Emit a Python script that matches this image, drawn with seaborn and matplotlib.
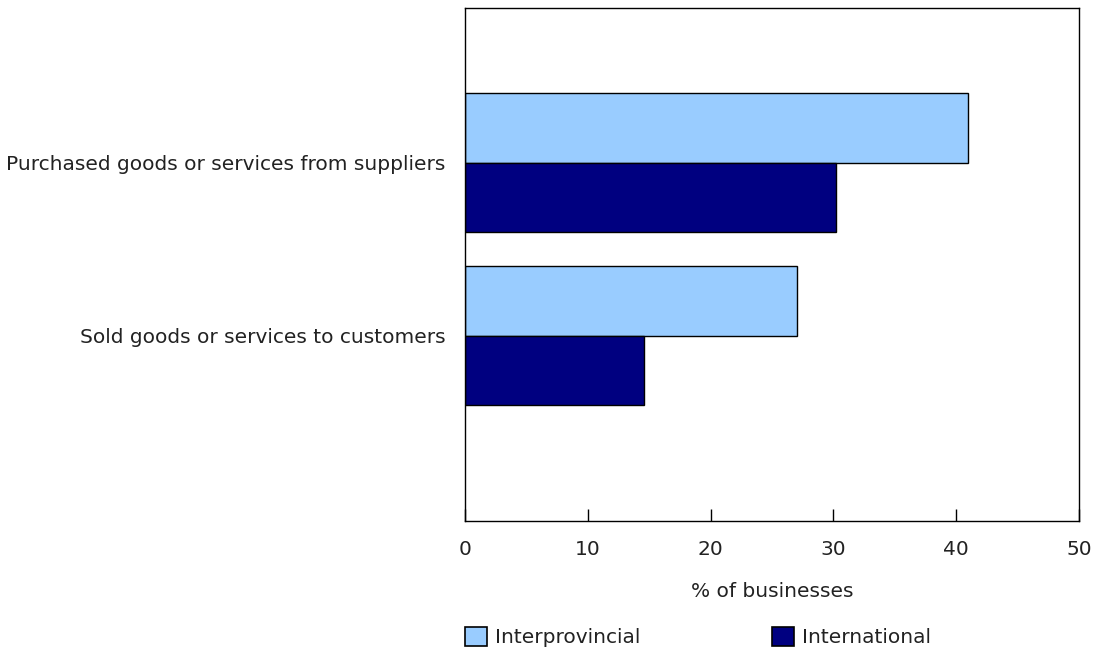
import numpy as np
import pandas as pd
import matplotlib
matplotlib.use("Agg")
import matplotlib.pyplot as plt
import seaborn as sns
from matplotlib.patches import Patch

# ── Data ──────────────────────────────────────────────────────────────────────
categories = ["Purchased goods or services from suppliers",
              "Sold goods or services to customers"]
series_names = ["Interprovincial", "International"]
interprovincial = [41.0, 27.0]
international = [30.2, 14.6]
colors = ["#99CCFF", "#000080"]
x_ticks = [0, 10, 20, 30, 40, 50]

df = pd.DataFrame({
    "category": categories * 2,
    "type": [series_names[0]] * 2 + [series_names[1]] * 2,
    "value": interprovincial + international,
})

FS = 14.5
TXT = "#222222"

# ── Figure ────────────────────────────────────────────────────────────────────
sns.set_theme(style="white")
plt.rcParams['font.family'] = ['DejaVu Sans']

fig = plt.figure(figsize=(10.93, 6.51), dpi=100)
ax = fig.add_axes([465/1093, 1 - 521/651, (1079 - 465)/1093, (521 - 8)/651])

sns.barplot(data=df, y="category", x="value", hue="type", orient="h",
            palette=colors, saturation=1, width=0.8, edgecolor="black",
            linewidth=1, ax=ax, legend=False)

ax.set_xlim(0, 50)
ax.set_ylim(2.072, -0.893)
ax.set_xticks(x_ticks)
ax.tick_params(axis="x", direction="in", length=9, width=1, color="black",
               pad=14, labelsize=FS, labelcolor=TXT, bottom=True)
ax.tick_params(axis="y", length=0, pad=14, labelsize=FS, labelcolor=TXT)
ax.set_ylabel("")
ax.set_xlabel("% of businesses", fontsize=FS, color=TXT, labelpad=16)
for s in ax.spines.values():
    s.set_visible(True)
    s.set_color("black")
    s.set_linewidth(1)

# legend
handles = [Patch(facecolor=c, edgecolor="black", linewidth=1.2) for c in colors]
fig.legend(handles, series_names, loc="center left",
           bbox_to_anchor=(457/1093, 1 - 637/651), ncol=2, frameon=False,
           fontsize=FS, handlelength=1.1, handleheight=1.05, handletextpad=0.4,
           columnspacing=6.5, borderaxespad=0, labelcolor=TXT)

plt.savefig("out.png", dpi=100)
plt.close()
